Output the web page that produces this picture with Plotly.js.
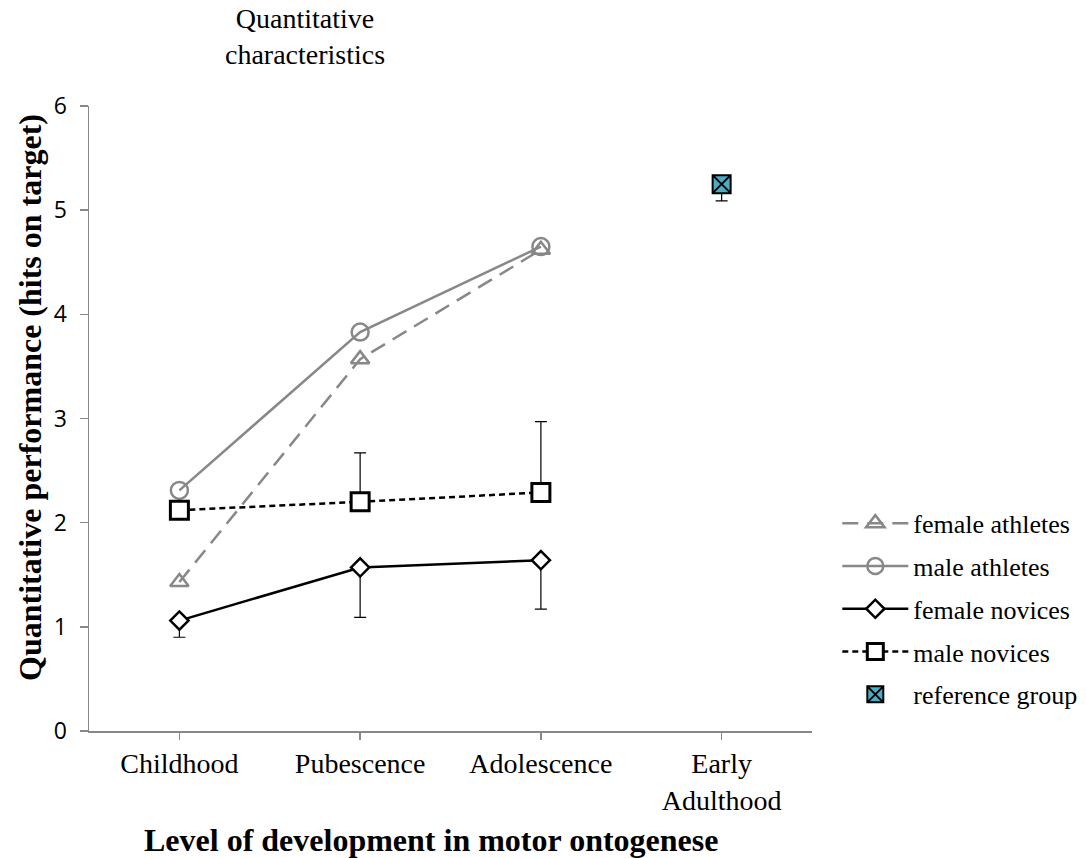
<!DOCTYPE html>
<html>
<head>
<meta charset="utf-8">
<script src="https://cdn.plot.ly/plotly-3.0.1.min.js"></script>
<style>html,body{margin:0;padding:0;background:#fff;}#chart{width:1086px;height:858px;}</style>
</head>
<body>
<div id="chart"></div>
<script>
var categories = ["Childhood", "Pubescence", "Adolescence", "Early<br>Adulthood"];
var groupCategories = ["Childhood", "Pubescence", "Adolescence"];
var refCategory = ["Early<br>Adulthood"];

var femaleAthletes = [1.43, 3.57, 4.62];
var maleAthletes = [2.31, 3.83, 4.65];
var femaleNovices = [1.06, 1.57, 1.64];
var femaleNovicesErrMinus = [0.16, 0.48, 0.47];
var maleNovices = [2.12, 2.20, 2.29];
var maleNovicesErrPlus = [0, 0.47, 0.68];
var referenceGroup = [5.25];
var referenceErrMinus = [0.16];

var yTicks = [0, 1, 2, 3, 4, 5, 6];

var gray = '#888888';
var serif = 'Liberation Serif, Times New Roman, serif';

var traces = [
  {
    name: 'female athletes', x: groupCategories, y: femaleAthletes, type: 'scatter', mode: 'lines+markers',
    legendgroup: 'a',
    line: {color: gray, width: 2.5, dash: '16px,9px'},
    marker: {symbol: 'triangle-up-open', size: 16, color: gray, line: {color: gray, width: 2.5}}
  },
  {
    name: 'male athletes', x: groupCategories, y: maleAthletes, type: 'scatter', mode: 'lines+markers',
    legendgroup: 'b',
    line: {color: gray, width: 2.5},
    marker: {symbol: 'circle-open', size: 17, color: gray, line: {color: gray, width: 2.5}}
  },
  {
    name: 'female novices', x: groupCategories, y: femaleNovices, type: 'scatter', mode: 'lines+markers',
    legendgroup: 'c',
    line: {color: '#000', width: 2.5},
    marker: {symbol: 'diamond', size: 14, color: '#fff', line: {color: '#000', width: 2.5}},
    error_y: {type: 'data', symmetric: false, array: [0, 0, 0], arrayminus: femaleNovicesErrMinus, color: '#000', thickness: 1.2, width: 6}
  },
  {
    name: 'male novices', x: groupCategories, y: maleNovices, type: 'scatter', mode: 'lines+markers',
    legendgroup: 'd',
    line: {color: '#000', width: 2.5, dash: '6px,4px'},
    marker: {symbol: 'square', size: 18, color: '#fff', line: {color: '#000', width: 3}},
    error_y: {type: 'data', symmetric: false, array: maleNovicesErrPlus, arrayminus: [0, 0, 0], color: '#000', thickness: 1.2, width: 6}
  },
  {
    name: 'reference group', x: refCategory, y: referenceGroup, type: 'scatter', mode: 'markers',
    legendgroup: 'e',
    marker: {symbol: 'square-x', size: 18, color: '#4bacc6', line: {color: '#000', width: 2}},
    error_y: {type: 'data', symmetric: false, array: [0], arrayminus: referenceErrMinus, color: '#000', thickness: 1.2, width: 6}
  }
];

var layout = {
  width: 1086, height: 858,
  margin: {l: 89, r: 274, t: 106, b: 127, autoexpand: false},
  paper_bgcolor: '#fff', plot_bgcolor: '#fff',
  showlegend: true,
  legend: {
    x: 1.035, xanchor: 'left', y: 0.37, yanchor: 'top',
    font: {family: serif, size: 26, color: '#000'},
    traceorder: 'grouped', tracegroupgap: 6,
    itemwidth: 66,
    bgcolor: 'rgba(0,0,0,0)'
  },
  xaxis: {
    type: 'category', categoryorder: 'array', categoryarray: categories,
    range: [-0.5, 3.5],
    showgrid: false, zeroline: false,
    showline: true, linecolor: '#888', linewidth: 1.5,
    ticks: 'outside', ticklen: 7, tickcolor: '#888', tickwidth: 1.5,
    tickfont: {family: serif, size: 28, color: '#000'},
    fixedrange: true
  },
  yaxis: {
    range: [0, 6], tickvals: yTicks, ticktext: yTicks.map(String),
    showgrid: false, zeroline: false,
    showline: true, linecolor: '#888', linewidth: 1.5,
    ticks: 'outside', ticklen: 8, tickcolor: '#888', tickwidth: 1.5,
    tickfont: {family: 'Open Sans, Liberation Sans, sans-serif', size: 23, color: '#000'},
    ticklabelstandoff: 8,
    fixedrange: true
  },
  annotations: [
    {text: 'Quantitative<br>characteristics', xref: 'paper', yref: 'paper', x: (305 - 89) / 723, y: 1 + (106 - 37) / 625,
     xanchor: 'center', yanchor: 'middle', showarrow: false, font: {family: serif, size: 28, color: '#000'}},
    {text: '<b>Level of development in motor ontogenese</b>', xref: 'paper', yref: 'paper', x: (431 - 89) / 723, y: -(840 - 731) / 625,
     xanchor: 'center', yanchor: 'middle', showarrow: false, font: {family: serif, size: 32, color: '#000'}},
    {text: '<b>Quantitative performance (hits on target)</b>', xref: 'paper', yref: 'paper', x: -(89 - 30) / 723, y: (731 - 398) / 625,
     xanchor: 'center', yanchor: 'middle', textangle: -90, showarrow: false, font: {family: serif, size: 32, color: '#000'}}
  ]
};

Plotly.newPlot('chart', traces, layout, {displayModeBar: false, staticPlot: true});
</script>
</body>
</html>
